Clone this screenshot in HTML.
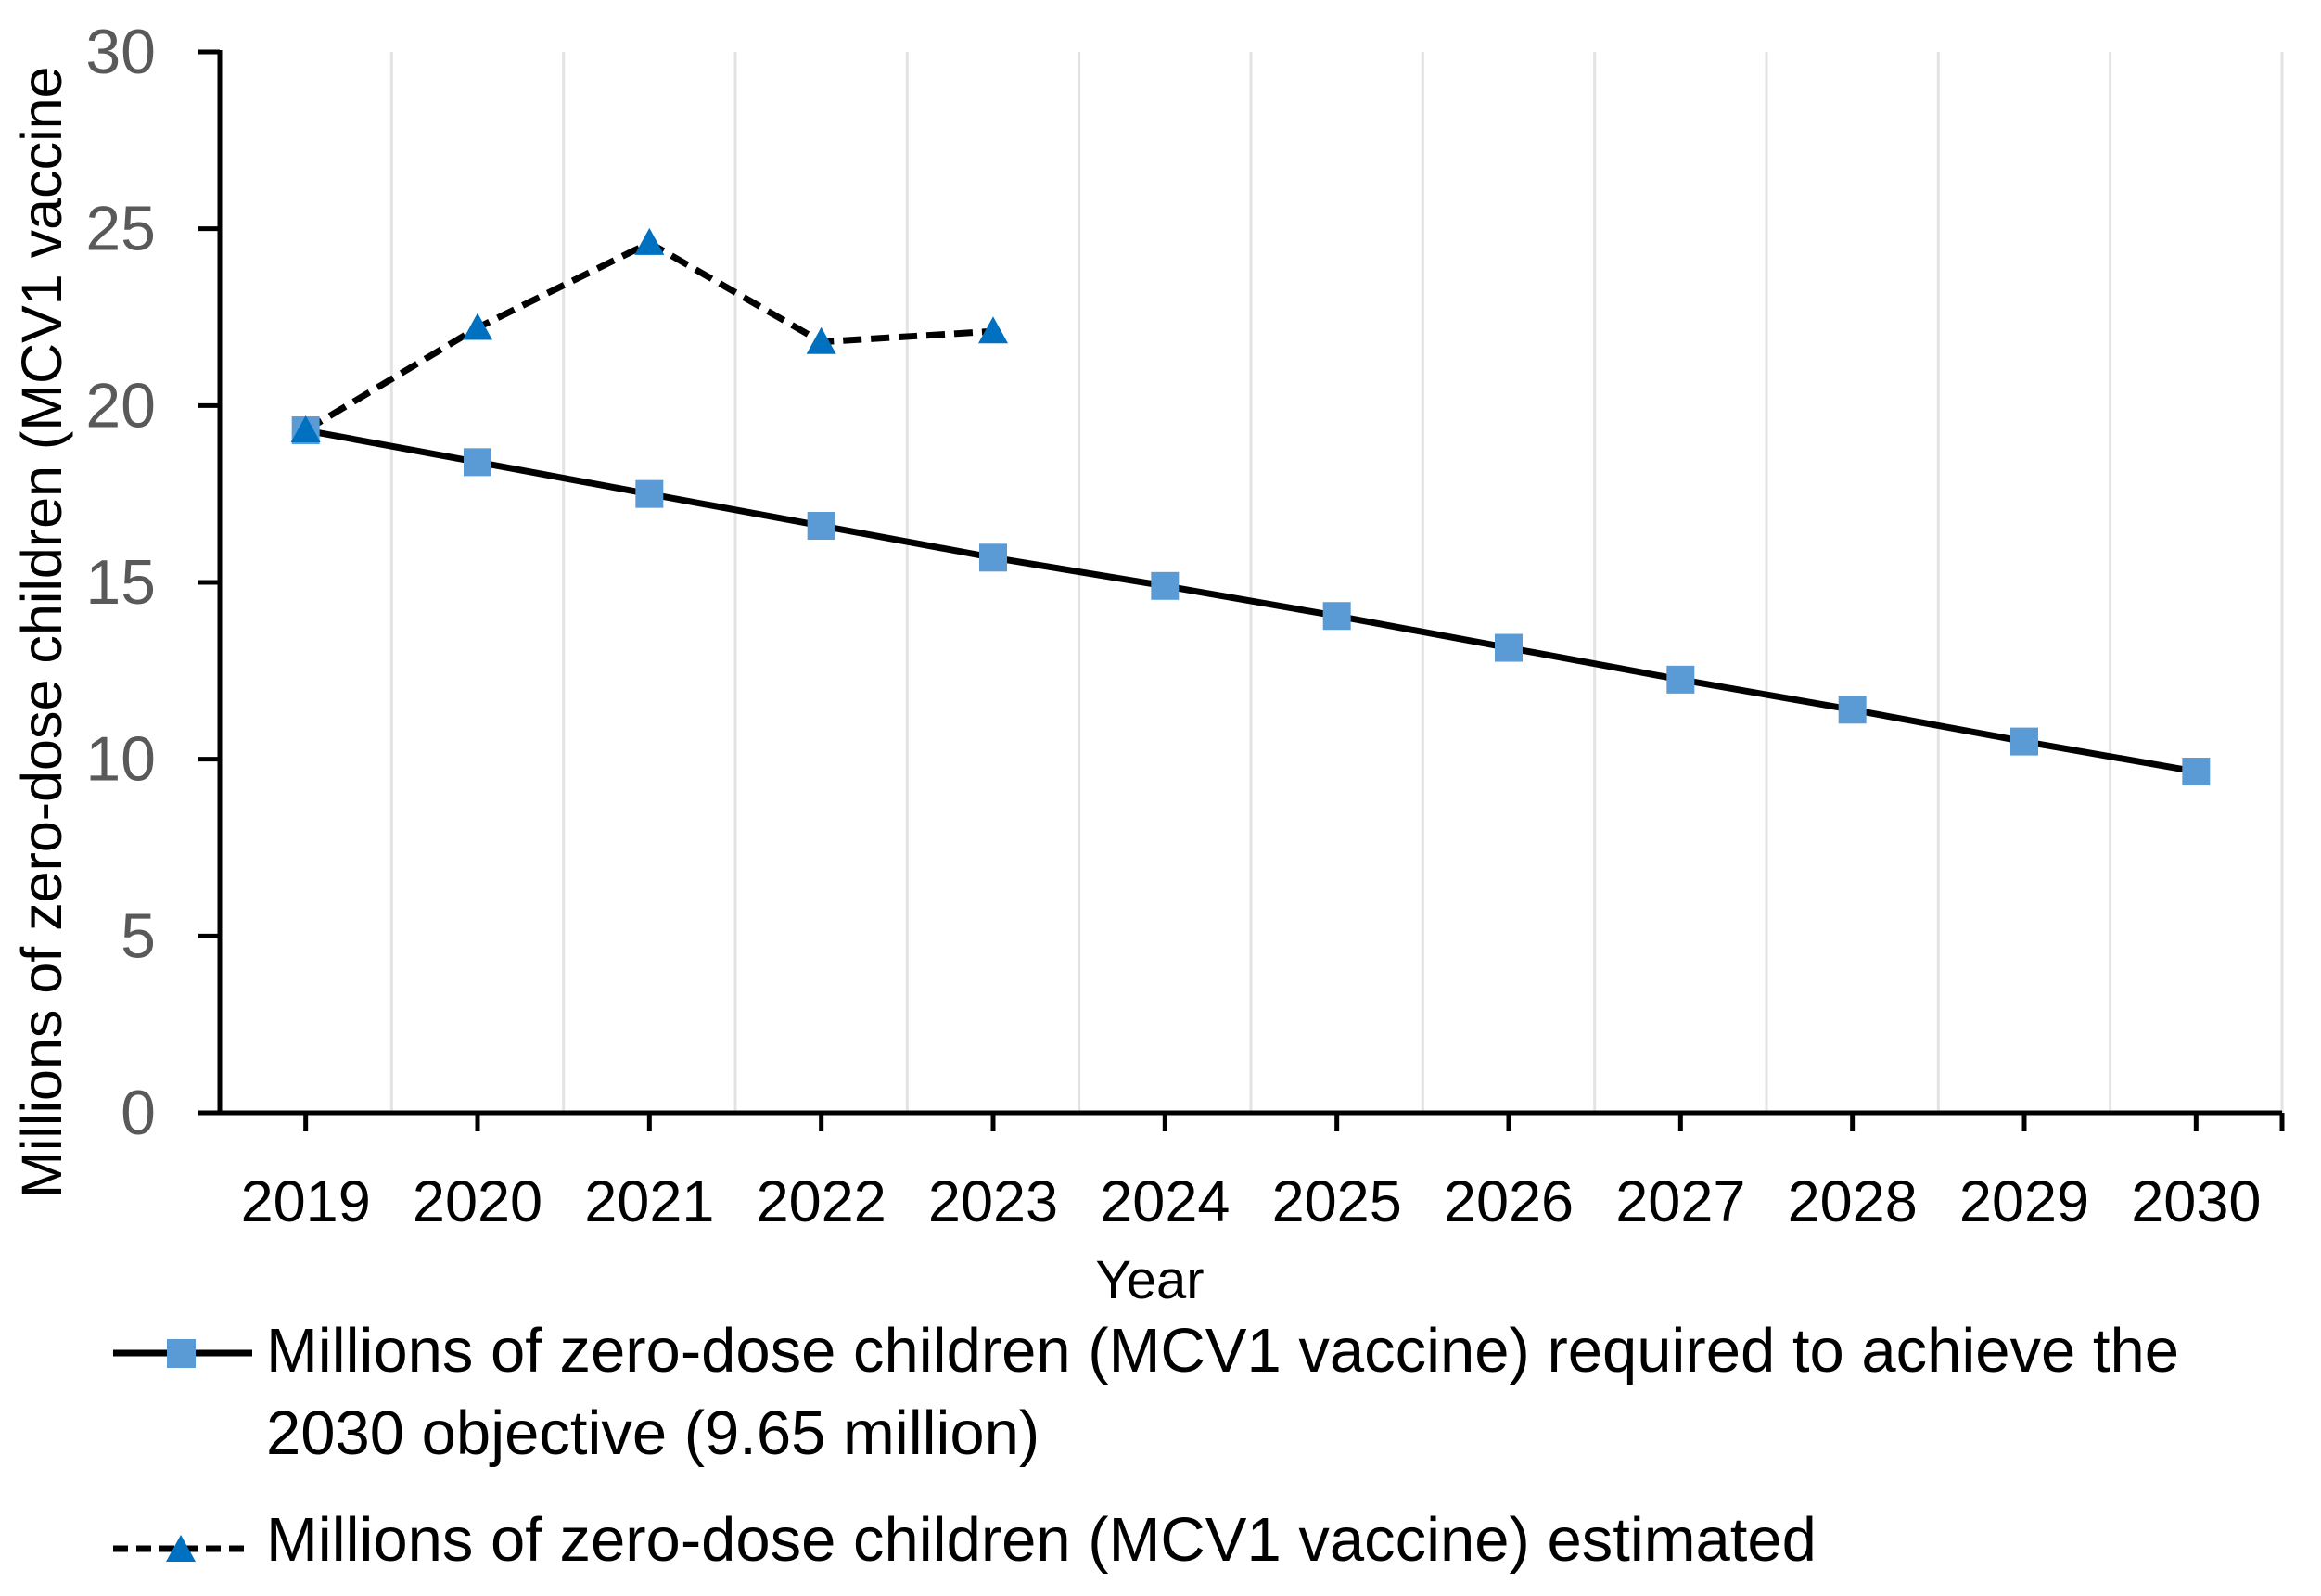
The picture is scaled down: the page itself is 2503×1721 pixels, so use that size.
<!DOCTYPE html>
<html><head><meta charset="utf-8"><style>
html,body{margin:0;padding:0;background:#fff;}
svg{display:block;font-family:"Liberation Sans",sans-serif;}
</style></head><body>
<svg id="chart" width="2503" height="1721" viewBox="0 0 2503 1721">
<g id="grid"></g><g id="axes"></g><g id="series"></g>
<text transform="translate(66,1292) rotate(-90)" font-size="61" fill="#000">Millions of zero-dose children (MCV1 vaccine</text>
<text x="1240" y="1400" font-size="58" text-anchor="middle" fill="#000">Year</text>
<g>
<line x1="122" y1="1459" x2="272" y2="1459" stroke="#000" stroke-width="7"/>
<rect x="180" y="1444" width="31" height="31" fill="#5b9bd5"/>
<text x="287" y="1479" font-size="67" fill="#000">Millions of zero-dose children (MCV1 vaccine) required to achieve the</text>
<text x="287" y="1568" font-size="67" fill="#000">2030 objective (9.65 million)</text>
<line x1="122" y1="1670" x2="272" y2="1670" stroke="#000" stroke-width="7" stroke-dasharray="16,9"/>
<polygon points="195,1655 211,1684 179,1684" fill="#0070c0"/>
<text x="287" y="1683" font-size="67" fill="#000">Millions of zero-dose children (MCV1 vaccine) estimated</text>
</g>
</svg>
<script>
const years = ["2019","2020","2021","2022","2023","2024","2025","2026","2027","2028","2029","2030"];
const required = [19.3,18.4,17.5,16.6,15.7,14.9,14.05,13.15,12.25,11.4,10.5,9.65];
const estimated = [19.3,22.2,24.6,21.8,22.1];
const yTicks = [0,5,10,15,20,25,30];
const NS="http://www.w3.org/2000/svg";
const L=237,R=2461,T=56,B=1200,yMax=30;
const step=(R-L)/years.length;
const xs=i=>L+step*(i+0.5);
const ys=v=>B-(v/yMax)*(B-T);
function mk(tag,attrs,parent){const e=document.createElementNS(NS,tag);for(const k in attrs)e.setAttribute(k,attrs[k]);document.getElementById(parent).appendChild(e);return e;}
for(let i=1;i<=years.length;i++){
  const g=mk('line',{x1:L+step*i,x2:L+step*i,y1:T,y2:B,stroke:'#e3e3e3','stroke-width':3},'grid');
  
  
}
let a=mk('line',{x1:L,x2:L,y1:T-2,y2:B+2,stroke:'#000','stroke-width':5},'axes');


a=mk('line',{x1:L-2,x2:R,y1:B,y2:B,stroke:'#000','stroke-width':5},'axes');


yTicks.forEach(v=>{
  const t=mk('line',{x1:L-23,x2:L,y1:ys(v),y2:ys(v),stroke:'#000','stroke-width':5},'axes');
  
  
  const tx=mk('text',{x:168,y:ys(v)+23,'font-size':68,'text-anchor':'end',fill:'#595959'},'axes');
  tx.textContent=v;
  
  
});
years.forEach((y,i)=>{
  const t=mk('line',{x1:xs(i),x2:xs(i),y1:B,y2:B+20,stroke:'#000','stroke-width':5},'axes');
  
  
  const tx=mk('text',{x:xs(i),y:1317,'font-size':63,'text-anchor':'middle',fill:'#000'},'axes');
  tx.textContent=y;
  
  
});
const t2=mk('line',{x1:R,x2:R,y1:B,y2:B+20,stroke:'#000','stroke-width':5},'axes');


let p=mk('polyline',{points:required.map((v,i)=>xs(i)+','+ys(v)).join(' '),fill:'none',stroke:'#000','stroke-width':7},'series');


p=mk('polyline',{points:estimated.map((v,i)=>xs(i)+','+ys(v)).join(' '),fill:'none',stroke:'#000','stroke-width':7,'stroke-dasharray':'20,10'},'series');


required.forEach((v,i)=>{
  const r=mk('rect',{x:xs(i)-15,y:ys(v)-15,width:30,height:30,fill:'#5b9bd5'},'series');
  
  
});
estimated.forEach((v,i)=>{
  const x=xs(i),y=ys(v);
  const t=mk('polygon',{points:`${x},${y-16} ${x+16},${y+13} ${x-16},${y+13}`,fill:'#0070c0'},'series');
  
  
});
</script>
</body></html>
